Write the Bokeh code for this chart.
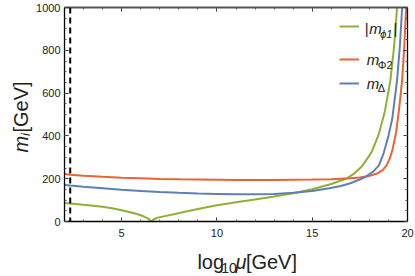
from bokeh.plotting import figure
from bokeh.models import (Span, Label, LinearAxis, SingleIntervalTicker, Legend, LegendItem,
                          Range1d, CustomJSTickFormatter)
from bokeh.layouts import row, column
from bokeh.core.properties import value
from bokeh.embed import file_html
from bokeh.resources import INLINE

# ---------------- data ----------------
x_phi1 = [2.0, 2.3, 3.0, 3.5, 4.0, 4.5, 5.0, 5.5, 5.8, 6.0, 6.2, 6.35, 6.45, 6.55,
          6.65, 6.75, 6.9, 7.2, 7.8, 8.5, 9.0, 10.0, 11.0, 12.0, 13.0, 14.0, 15.0,
          16.0, 16.8, 17.2, 17.6, 18.0, 18.15, 18.5, 18.8, 19.1, 19.3, 19.45]
m_phi1 = [86, 84, 78, 74, 69, 62, 53, 42, 35, 29, 22, 16, 10, 0,
          8, 13, 18, 24, 35, 49, 58, 76, 90, 103, 117, 132, 151,
          175, 201, 224, 257, 308, 331, 410, 510, 658, 820, 1000]

x_phi2 = [2.0, 2.3, 3.0, 4.0, 5.0, 6.0, 7.0, 8.0, 9.0, 10.0, 11.0, 12.0, 13.0, 14.0,
          15.0, 16.0, 17.0, 17.5, 18.0, 18.4, 18.7, 18.9, 19.05, 19.2, 19.4, 19.55,
          19.65, 19.72, 19.82, 19.93]
m_phi2 = [222, 218, 214, 209, 205, 202, 199, 197, 196, 195, 194, 194, 194, 195,
          196, 198, 202, 206, 213, 224, 240, 262, 290, 331, 415, 520,
          600, 665, 800, 1000]

x_delta = [2.0, 2.3, 3.0, 4.0, 5.0, 6.0, 7.0, 8.0, 9.0, 10.0, 11.0, 12.0, 13.0, 14.0,
           15.0, 15.9, 16.5, 17.0, 17.5, 17.8, 18.2, 18.5, 18.75, 19.0, 19.2, 19.45,
           19.6, 19.72]
m_delta = [171, 168, 162, 155, 148, 143, 138, 134, 131, 129, 127, 127, 129, 134,
           143, 155, 166, 179, 196, 209, 233, 262, 320, 400, 480, 658,
           820, 1000]

dashed_x = 2.3
x_major = 5
y_major = 200

GREEN = "#8FB032"
RED = "#EB6235"
BLUE = "#5E81B5"
FONT = "Liberation Sans"
TXT = "#222222"
MID = 0.35   # baseline lies this many em below the "middle" anchor

# ---------------- layout (page pixels, page origin at 0,0) ----------------
YL_W = 33                 # left strip holding the rotated y label
P_W, P_H = 382, 244       # main figure
XL_H = 32                 # strip below holding the x label
ML, MR, MT, MB = 29, 8, 7, 23

p = figure(width=P_W, height=P_H, output_backend="svg", toolbar_location=None,
           x_range=Range1d(2, 20), y_range=Range1d(0, 1000),
           min_border_left=ML, min_border_right=MR, min_border_top=MT, min_border_bottom=MB,
           x_axis_location=None, y_axis_location=None)
p.outline_line_color = None
p.xgrid.visible = False
p.ygrid.visible = False
p.background_fill_color = "white"
p.border_fill_color = "white"

blank = CustomJSTickFormatter(code="return ''")

def make_axis(ax, labels=True, color="black", width=1.3):
    ax.axis_line_color = color
    ax.axis_line_width = width
    ax.major_tick_in = 4
    ax.major_tick_out = 0
    ax.minor_tick_in = 2
    ax.minor_tick_out = 0
    ax.major_tick_line_color = "#333333"
    ax.minor_tick_line_color = "#555555"
    ax.major_label_text_font = FONT
    ax.major_label_text_color = TXT
    ax.major_label_text_font_size = "11px"
    if labels:
        ax.major_label_standoff = 4
    else:
        ax.formatter = blank
        ax.major_label_standoff = 0
    return ax

xt = SingleIntervalTicker(interval=x_major, num_minor_ticks=5)
yt = SingleIntervalTicker(interval=y_major, num_minor_ticks=4)

bottom = make_axis(LinearAxis(ticker=xt))
top = make_axis(LinearAxis(ticker=xt), labels=False, color="#555555", width=2)
left = make_axis(LinearAxis(ticker=yt))
right = make_axis(LinearAxis(ticker=yt), labels=False)
bottom.major_label_standoff = 7
p.add_layout(bottom, "below")
p.add_layout(top, "above")
p.add_layout(left, "left")
p.add_layout(right, "right")

# curves
r_g = p.line(x_phi1, m_phi1, line_color=GREEN, line_width=2)
r_r = p.line(x_phi2, m_phi2, line_color=RED, line_width=2)
r_b = p.line(x_delta, m_delta, line_color=BLUE, line_width=2)

p.add_layout(Span(location=dashed_x, dimension="height", line_color="black",
                  line_width=2, line_dash="6 4"))

# ---- helpers: page pixel -> data coordinate (for text placement in the frame) ----
PX0, PY0 = YL_W, 0                          # page position of main figure
FL, FR = PX0 + ML, PX0 + P_W - MR
FT, FB = PY0 + MT, PY0 + P_H - MB
def xd(px):
    return 2 + (px - FL) * 18.0 / (FR - FL)
def yd(py):
    return (FB - py) * 1000.0 / (FB - FT)

def lab(px, base_y, text, size, italic=False):
    py = base_y - MID * size
    p.add_layout(Label(x=xd(px), y=yd(py), text=text, text_font=FONT,
                       text_font_size=f"{size}px",
                       text_font_style="italic" if italic else "normal",
                       text_color=TXT, text_align="left", text_baseline="middle"))

# legend keys (one legend per entry, placed like the reference)
def key_at(renderer, page_x, page_y):
    lg = Legend(items=[LegendItem(label=" ", renderers=[renderer])],
                location=(page_x - FL, FB - page_y - 5), glyph_width=20, glyph_height=10,
                label_height=10, label_width=1, label_text_font_size="1px",
                padding=0, margin=0, spacing=0, label_standoff=0,
                border_line_color=None, background_fill_color=None,
                background_fill_alpha=0)
    p.add_layout(lg)

key_at(r_g, 337, 26)
key_at(r_r, 337, 59)
key_at(r_b, 337, 83)

# legend texts (x, baseline y in page pixels)
lab(364, 33, "|", 15)
lab(368.5, 33, "m", 15, italic=True)
lab(379.5, 37, "ϕ1", 11, italic=True)
lab(393, 33, "|", 15)

lab(366, 64.5, "m", 15, italic=True)
lab(377, 68.5, "Φ2", 11)

lab(366, 88, "m", 15, italic=True)
lab(377, 91.5, "Δ", 11)

# ---------------- label strips ----------------
def strip(w, h):
    f = figure(width=w, height=h, output_backend="svg", toolbar_location=None,
               x_range=Range1d(0, w), y_range=Range1d(h, 0), min_border=0,
               x_axis_location=None, y_axis_location=None)
    f.outline_line_color = None
    f.xgrid.visible = False
    f.ygrid.visible = False
    f.border_fill_color = "white"
    f.background_fill_color = "white"
    return f

def stext(f, x, y, text, size, italic=False, angle=0.0):
    f.text(x=[x], y=[y], text=[text], text_font=value(FONT),
           text_font_size=value(f"{size}px"),
           text_font_style=value("italic" if italic else "normal"),
           text_color=TXT, text_align=value("left"), text_baseline=value("middle"),
           angle=angle)

# x label strip (positions given as page x, page baseline y)
xl = strip(P_W, XL_H)
ox, oy = PX0, PY0 + P_H
def xlab(px, base_y, text, size, italic=False):
    stext(xl, px - ox, base_y - MID * size - oy, text, size, italic)

BY = 268.5
xlab(181, BY, "log", 20)
xlab(207.5, BY + 4, "10", 14)
xlab(223.5, BY, "μ", 20, italic=True)
xlab(235, BY, "[GeV]", 20)

# y label strip (rotated; positions given as page baseline x, page start y)
yl = strip(YL_W, P_H + XL_H)
ANG = 1.5707963
def ylab(base_x, py, text, size, italic=False):
    stext(yl, base_x - MID * size, py, text, size, italic, angle=ANG)

ylab(27, 152, "m", 20, italic=True)
ylab(30, 135.5, "i", 13, italic=True)
ylab(27, 132, "[GeV]", 20)

layout = row(yl, column(p, xl))
open("out.html", "w").write(file_html(layout, INLINE))
